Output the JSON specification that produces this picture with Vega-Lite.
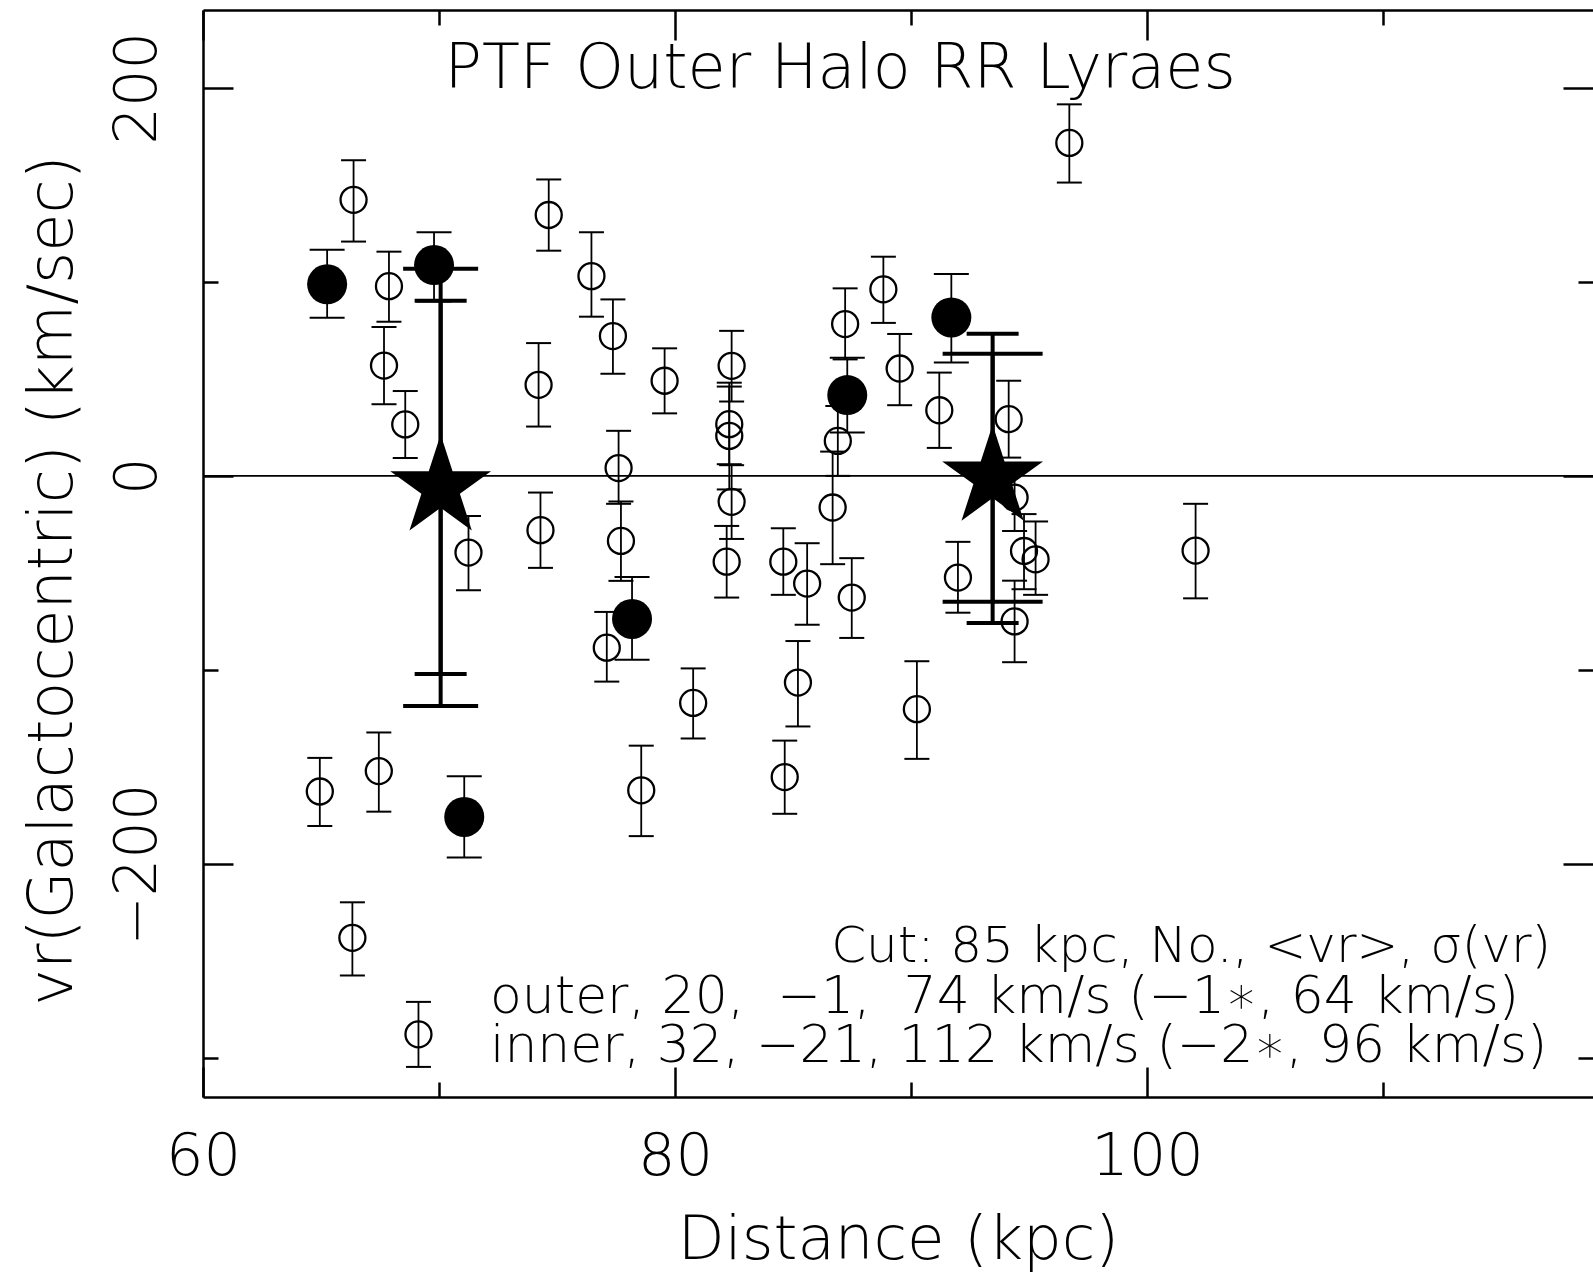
{
  "$schema": "https://vega.github.io/schema/vega-lite/v6.json",
  "width": 1390,
  "height": 1087,
  "autosize": {"type": "none"},
  "padding": {"left": 203, "top": 10, "right": 0, "bottom": 176},
  "background": "white",
  "datasets": {
    "open": [
      {"d": 66.38, "v": 142.2, "lo": 120.7, "hi": 162.6},
      {"d": 67.88, "v": 97.7, "lo": 79.4, "hi": 115.5},
      {"d": 67.67, "v": 56.8, "lo": 36.9, "hi": 76.7},
      {"d": 68.57, "v": 26.5, "lo": 9.2, "hi": 43.7},
      {"d": 64.95, "v": -162.6, "lo": -180.4, "hi": -145.3},
      {"d": 67.45, "v": -152.1, "lo": -173.0, "hi": -132.2},
      {"d": 66.33, "v": -238.0, "lo": -257.4, "hi": -219.7},
      {"d": 69.13, "v": -287.7, "lo": -304.5, "hi": -271.0},
      {"d": 71.25, "v": -39.5, "lo": -58.9, "hi": -20.7},
      {"d": 74.22, "v": 46.9, "lo": 25.4, "hi": 68.4},
      {"d": 74.30, "v": -28.0, "lo": -47.4, "hi": -8.6},
      {"d": 74.65, "v": 134.4, "lo": 116.0, "hi": 152.7},
      {"d": 76.46, "v": 102.9, "lo": 82.0, "hi": 125.5},
      {"d": 77.37, "v": 72.0, "lo": 52.6, "hi": 90.9},
      {"d": 77.61, "v": 4.0, "lo": -14.4, "hi": 23.2},
      {"d": 77.71, "v": -33.5, "lo": -54.1, "hi": -13.2},
      {"d": 77.11, "v": -88.5, "lo": -106.0, "hi": -70.1},
      {"d": 78.57, "v": -162.0, "lo": -185.6, "hi": -139.0},
      {"d": 79.56, "v": 49.0, "lo": 32.2, "hi": 65.7},
      {"d": 80.77, "v": -117.0, "lo": -135.3, "hi": -99.2},
      {"d": 82.40, "v": 56.7, "lo": 38.3, "hi": 74.7},
      {"d": 82.30, "v": 26.6, "lo": 6.0, "hi": 48.0},
      {"d": 82.30, "v": 20.6, "lo": -7.0, "hi": 46.0},
      {"d": 82.40, "v": -13.4, "lo": -32.5, "hi": 5.5},
      {"d": 82.19, "v": -44.2, "lo": -62.7, "hi": -25.8},
      {"d": 84.59, "v": -44.2, "lo": -61.3, "hi": -27.0},
      {"d": 85.60, "v": -55.5, "lo": -76.7, "hi": -34.7},
      {"d": 85.21, "v": -106.5, "lo": -129.1, "hi": -85.1},
      {"d": 84.65, "v": -155.2, "lo": -174.1, "hi": -136.4},
      {"d": 87.21, "v": 78.2, "lo": 60.0, "hi": 96.6},
      {"d": 86.90, "v": 18.0, "lo": 0.0, "hi": 36.0},
      {"d": 86.68, "v": -16.3, "lo": -45.5, "hi": 12.5},
      {"d": 87.49, "v": -62.7, "lo": -83.5, "hi": -42.4},
      {"d": 88.83, "v": 96.1, "lo": 78.8, "hi": 112.9},
      {"d": 89.52, "v": 55.3, "lo": 36.4, "hi": 73.1},
      {"d": 90.25, "v": -120.2, "lo": -145.8, "hi": -95.5},
      {"d": 91.20, "v": 33.8, "lo": 14.4, "hi": 53.2},
      {"d": 91.99, "v": -52.4, "lo": -70.5, "hi": -34.0},
      {"d": 94.14, "v": 29.2, "lo": 9.4, "hi": 49.0},
      {"d": 94.39, "v": -11.2, "lo": -28.4, "hi": 6.0},
      {"d": 94.79, "v": -38.7, "lo": -58.4, "hi": -19.7},
      {"d": 95.28, "v": -43.0, "lo": -61.3, "hi": -23.5},
      {"d": 94.39, "v": -75.0, "lo": -96.0, "hi": -54.0},
      {"d": 96.71, "v": 171.5, "lo": 151.1, "hi": 191.4},
      {"d": 102.06, "v": -38.5, "lo": -63.1, "hi": -14.4}
    ],
    "filled": [
      {"d": 65.26, "v": 98.7, "lo": 81.5, "hi": 116.5},
      {"d": 69.79, "v": 108.6, "lo": 89.8, "hi": 125.5},
      {"d": 71.07, "v": -175.7, "lo": -196.6, "hi": -154.7},
      {"d": 78.18, "v": -73.7, "lo": -94.8, "hi": -52.1},
      {"d": 87.30, "v": 41.6, "lo": 22.3, "hi": 60.8},
      {"d": 91.71, "v": 81.6, "lo": 58.4, "hi": 104.0}
    ],
    "stars": [
      {"group": "inner", "d": 70.07, "v": -6},
      {"group": "outer", "d": 93.46, "v": -1}
    ],
    "starErr": [
      {"group": "inner", "set": "all", "d": 70.07, "lo": -118.6, "hi": 106.7},
      {"group": "inner", "set": "clipped", "d": 70.07, "lo": -102.1, "hi": 90.2},
      {"group": "outer", "set": "all", "d": 93.46, "lo": -75.8, "hi": 73.2},
      {"group": "outer", "set": "clipped", "d": 93.46, "lo": -64.9, "hi": 62.9}
    ],
    "note": [{"id": 1}]
  },
  "resolve": {"axis": {"x": "independent", "y": "independent"}},
  "layer": [
    {
      "data": {"name": "note"},
      "mark": {"type": "rule", "color": "black", "strokeWidth": 1.7},
      "encoding": {"y": {"datum": 0, "type": "quantitative", "axis": null}}
    },
    {
      "data": {"name": "open"},
      "mark": {"type": "rule", "color": "black", "strokeWidth": 1.8},
      "encoding": {
        "x": {"field": "d", "type": "quantitative",
          "scale": {"domain": [60, 118.9], "nice": false, "zero": false},
          "axis": {"orient": "bottom", "values": [60, 80, 100], "tickSize": -30, "labels": true,
            "labelPadding": 107, "labelBaseline": "alphabetic", "labelAlign": "center", "domain": true,
            "title": "Distance (kpc)", "titleX": 695, "titleY": 161, "titleBaseline": "alphabetic", "titleAlign": "center"}},
        "y": {"field": "lo", "type": "quantitative",
          "scale": {"domain": [-320, 240], "nice": false, "zero": false},
          "axis": {"orient": "left", "values": [-200, 0, 200], "tickSize": -30, "labels": true,
            "labelAngle": 270, "labelAlign": "center", "labelBaseline": "alphabetic", "labelPadding": 78, "domain": true,
            "title": "vr(Galactocentric) (km/sec)", "titleAngle": 270, "titleX": -132, "titleY": 570,
            "titleBaseline": "alphabetic", "titleAlign": "center", "titleFontSize": 62}},
        "y2": {"field": "hi"}
      }
    },
    {
      "data": {"name": "open"},
      "transform": [{"fold": ["lo", "hi"], "as": ["end", "yv"]}],
      "mark": {"type": "tick", "orient": "horizontal", "size": 25, "thickness": 2, "color": "black", "opacity": 1},
      "encoding": {
        "x": {"field": "d", "type": "quantitative",
          "axis": {"orient": "bottom", "values": [70, 90, 110], "tickSize": -15, "labels": false, "domain": false, "title": null}},
        "y": {"field": "yv", "type": "quantitative",
          "axis": {"orient": "left", "values": [-300, -100, 100], "tickSize": -15, "labels": false, "domain": false, "title": null}}
      }
    },
    {
      "data": {"name": "open"},
      "mark": {"type": "point", "shape": "circle", "filled": false, "size": 676, "strokeWidth": 2.3, "color": "black", "opacity": 1},
      "encoding": {
        "x": {"field": "d", "type": "quantitative",
          "axis": {"orient": "top", "values": [60, 80, 100], "tickSize": -30, "labels": false, "domain": true, "title": null}},
        "y": {"field": "v", "type": "quantitative",
          "axis": {"orient": "right", "values": [-200, 0, 200], "tickSize": -30, "labels": false, "domain": false, "title": null}}
      }
    },
    {
      "data": {"name": "filled"},
      "mark": {"type": "rule", "color": "black", "strokeWidth": 1.8},
      "encoding": {
        "x": {"field": "d", "type": "quantitative",
          "axis": {"orient": "top", "values": [70, 90, 110], "tickSize": -15, "labels": false, "domain": false, "title": null}},
        "y": {"field": "lo", "type": "quantitative",
          "axis": {"orient": "right", "values": [-300, -100, 100], "tickSize": -15, "labels": false, "domain": false, "title": null}},
        "y2": {"field": "hi"}
      }
    },
    {
      "data": {"name": "filled"},
      "transform": [{"fold": ["lo", "hi"], "as": ["end", "yv"]}],
      "mark": {"type": "tick", "orient": "horizontal", "size": 35, "thickness": 2, "color": "black", "opacity": 1},
      "encoding": {
        "x": {"field": "d", "type": "quantitative", "axis": null},
        "y": {"field": "yv", "type": "quantitative", "axis": null}
      }
    },
    {
      "data": {"name": "filled"},
      "mark": {"type": "circle", "size": 1600, "color": "black", "opacity": 1},
      "encoding": {
        "x": {"field": "d", "type": "quantitative", "axis": null},
        "y": {"field": "v", "type": "quantitative", "axis": null}
      }
    },
    {
      "data": {"name": "starErr"},
      "mark": {"type": "rule", "color": "black", "strokeWidth": 4},
      "encoding": {
        "x": {"field": "d", "type": "quantitative", "axis": null},
        "y": {"field": "lo", "type": "quantitative", "axis": null},
        "y2": {"field": "hi"}
      }
    },
    {
      "data": {"name": "starErr"},
      "transform": [{"filter": "datum.group === 'inner' && datum.set === 'all'"}, {"fold": ["lo", "hi"], "as": ["end", "yv"]}],
      "mark": {"type": "tick", "orient": "horizontal", "size": 75, "thickness": 4, "color": "black", "opacity": 1},
      "encoding": {
        "x": {"field": "d", "type": "quantitative", "axis": null},
        "y": {"field": "yv", "type": "quantitative", "axis": null}
      }
    },
    {
      "data": {"name": "starErr"},
      "transform": [{"filter": "datum.group === 'inner' && datum.set === 'clipped'"}, {"fold": ["lo", "hi"], "as": ["end", "yv"]}],
      "mark": {"type": "tick", "orient": "horizontal", "size": 52, "thickness": 4, "color": "black", "opacity": 1},
      "encoding": {
        "x": {"field": "d", "type": "quantitative", "axis": null},
        "y": {"field": "yv", "type": "quantitative", "axis": null}
      }
    },
    {
      "data": {"name": "starErr"},
      "transform": [{"filter": "datum.group === 'outer' && datum.set === 'all'"}, {"fold": ["lo", "hi"], "as": ["end", "yv"]}],
      "mark": {"type": "tick", "orient": "horizontal", "size": 52, "thickness": 4, "color": "black", "opacity": 1},
      "encoding": {
        "x": {"field": "d", "type": "quantitative", "axis": null},
        "y": {"field": "yv", "type": "quantitative", "axis": null}
      }
    },
    {
      "data": {"name": "starErr"},
      "transform": [{"filter": "datum.group === 'outer' && datum.set === 'clipped'"}, {"fold": ["lo", "hi"], "as": ["end", "yv"]}],
      "mark": {"type": "tick", "orient": "horizontal", "size": 100, "thickness": 4, "color": "black", "opacity": 1},
      "encoding": {
        "x": {"field": "d", "type": "quantitative", "axis": null},
        "y": {"field": "yv", "type": "quantitative", "axis": null}
      }
    },
    {
      "data": {"name": "stars"},
      "mark": {"type": "point", "shape": "M0,-1L0.2245,-0.309L0.951,-0.309L0.363,0.118L0.588,0.809L0,0.382L-0.588,0.809L-0.363,0.118L-0.951,-0.309L-0.2245,-0.309Z", "size": 11236, "filled": true, "color": "black", "opacity": 1},
      "encoding": {
        "x": {"field": "d", "type": "quantitative", "axis": null},
        "y": {"field": "v", "type": "quantitative", "axis": null}
      }
    },
    {
      "data": {"name": "note"},
      "mark": {"type": "text", "font": "DejaVu Sans", "fontWeight": 200, "fontSize": 62, "align": "center", "baseline": "alphabetic", "color": "black"},
      "encoding": {
        "x": {"datum": 87.0, "type": "quantitative", "axis": null},
        "y": {"datum": 200, "type": "quantitative", "axis": null},
        "text": {"value": "PTF Outer Halo RR Lyraes"}
      }
    },
    {
      "data": {"name": "note"},
      "mark": {"type": "text", "font": "DejaVu Sans", "fontWeight": 200, "fontSize": 50, "align": "right", "baseline": "alphabetic", "color": "black"},
      "encoding": {
        "x": {"datum": 117.12, "type": "quantitative", "axis": null},
        "y": {"datum": -250.5, "type": "quantitative", "axis": null},
        "text": {"value": "Cut: 85 kpc, No., <vr>, σ(vr)"}
      }
    },
    {
      "data": {"name": "note"},
      "mark": {"type": "text", "font": "DejaVu Sans", "fontWeight": 200, "fontSize": 52, "align": "left", "baseline": "alphabetic", "color": "black"},
      "encoding": {
        "x": {"datum": 72.16, "type": "quantitative", "axis": null},
        "y": {"datum": -276.8, "type": "quantitative", "axis": null},
        "text": {"value": "outer, 20,\u00a0 −1,\u00a0 74 km/s (−1∗, 64 km/s)"}
      }
    },
    {
      "data": {"name": "note"},
      "mark": {"type": "text", "font": "DejaVu Sans", "fontWeight": 200, "fontSize": 52, "align": "left", "baseline": "alphabetic", "color": "black"},
      "encoding": {
        "x": {"datum": 72.16, "type": "quantitative", "axis": null},
        "y": {"datum": -302.0, "type": "quantitative", "axis": null},
        "text": {"value": "inner, 32, −21, 112 km/s (−2∗, 96 km/s)"}
      }
    }
  ],
  "config": {
    "view": {"stroke": null},
    "font": "DejaVu Sans",
    "axis": {
      "domainColor": "black", "domainWidth": 2.5,
      "tickColor": "black", "tickWidth": 2.5,
      "labelColor": "black", "titleColor": "black",
      "labelFont": "DejaVu Sans", "titleFont": "DejaVu Sans",
      "labelFontSize": 59, "titleFontSize": 61,
      "labelFontWeight": 200, "titleFontWeight": 200,
      "grid": false, "labelOverlap": false, "labelFlush": false
    }
  }
}
